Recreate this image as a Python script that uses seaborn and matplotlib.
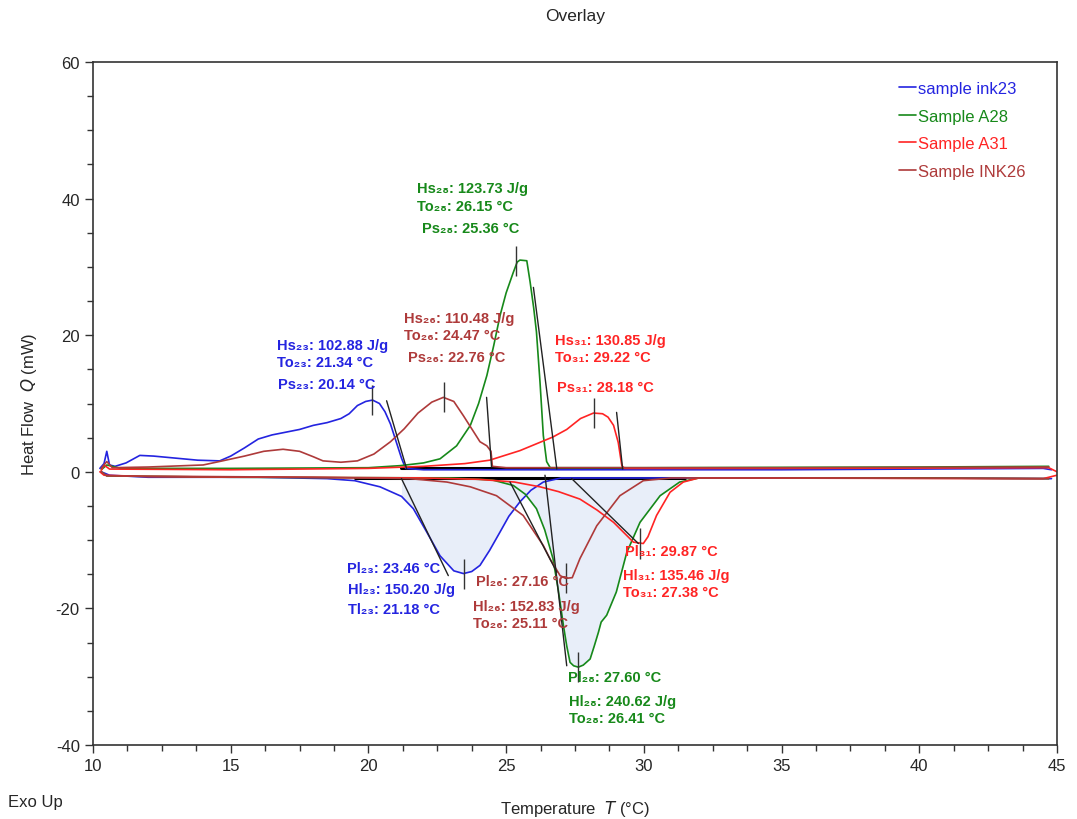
import seaborn as sns
import pandas as pd
import matplotlib.pyplot as plt
from matplotlib.lines import Line2D
from matplotlib.ticker import MultipleLocator

# ---- data read off the overlay (T in degC, Q in mW) ----
# heating traces (upper) and cooling traces (lower), one loop per sample
ink23_up_T = [10.25, 10.4, 10.5, 10.6, 10.8, 11.2, 11.7, 12.2, 13.0, 13.8, 14.6, 15.0, 15.5, 16.0,
              16.5, 17.0, 17.5, 18.0, 18.5, 19.0, 19.3, 19.6, 19.9, 20.15, 20.4, 20.6, 20.8, 21.0,
              21.2, 21.35, 22.0, 25.0, 30.0, 35.0, 40.0, 44.5, 44.8]
ink23_up_Q = [0.5, 1.2, 3.0, 1.0, 0.8, 1.3, 2.4, 2.3, 2.0, 1.7, 1.6, 2.3, 3.5, 4.8,
              5.4, 5.8, 6.2, 6.8, 7.2, 7.8, 8.5, 9.7, 10.3, 10.5, 10.0, 8.8, 7.0, 4.5,
              2.0, 0.5, 0.3, 0.3, 0.3, 0.3, 0.4, 0.5, 0.3]
ink23_dn_T = [44.8, 40.0, 35.0, 30.0, 27.0, 26.35, 25.9, 25.5, 25.1, 24.78, 24.4, 24.05, 23.75,
              23.45, 23.1, 22.6, 22.1, 21.63, 21.2, 20.42, 19.5, 18.5, 16.0, 12.0, 10.6, 10.3]
ink23_dn_Q = [-1.0, -0.9, -0.9, -0.9, -0.9, -1.5, -2.7, -4.4, -6.5, -8.8, -11.5, -13.7, -14.6,
              -14.9, -14.5, -12.3, -8.7, -5.4, -3.6, -2.2, -1.3, -1.0, -0.8, -0.8, -0.5, 0.0]

a28_up_T = [10.3, 10.5, 11.0, 15.0, 20.0, 21.15, 22.0, 22.6, 23.2, 23.7, 24.0, 24.3, 24.55, 24.78,
            25.0, 25.26, 25.4, 25.5, 25.75, 25.87, 26.0, 26.1, 26.23, 26.35, 26.47, 26.6, 30.0,
            40.0, 44.7]
a28_up_Q = [0.3, 1.0, 0.5, 0.5, 0.6, 0.9, 1.3, 1.9, 3.8, 6.8, 10.0, 14.1, 18.5, 22.9,
            26.2, 29.2, 30.7, 31.0, 30.9, 27.8, 24.0, 20.5, 13.1, 5.3, 1.5, 0.6, 0.6,
            0.7, 0.8]
a28_dn_T = [44.7, 40.0, 32.0, 31.3, 30.59, 29.86, 29.38, 29.0, 28.65, 28.45, 28.35, 28.2, 28.05,
            27.8, 27.62, 27.45, 27.32, 27.2, 27.08, 26.9, 26.7, 26.4, 26.1, 25.7, 25.26, 24.5,
            23.0, 15.0, 10.5, 10.3]
a28_dn_Q = [-1.0, -0.9, -0.9, -1.5, -3.5, -7.4, -11.8, -17.6, -21.0, -22.0, -23.5, -25.5, -27.4,
            -28.3, -28.6, -28.4, -27.9, -25.5, -22.5, -17.5, -12.7, -8.5, -5.4, -3.3, -2.0, -1.2,
            -0.9, -0.8, -0.6, 0.0]

a31_up_T = [10.3, 10.4, 10.6, 15.0, 20.0, 22.0, 23.5, 24.4, 25.5, 26.7, 27.2, 27.7, 28.17, 28.5,
            28.7, 28.9, 29.07, 29.2, 29.3, 35.0, 44.7, 45.0]
a31_up_Q = [0.2, 1.0, 0.4, 0.3, 0.5, 0.8, 1.2, 1.7, 3.1, 5.1, 6.2, 7.8, 8.6, 8.5,
            8.0, 6.8, 4.3, 0.9, 0.5, 0.5, 0.6, 0.0]
a31_dn_T = [45.0, 44.5, 32.0, 31.43, 30.95, 30.46, 30.15, 29.98, 29.62, 28.9, 28.3, 27.68, 26.9,
            26.23, 25.3, 24.0, 22.0, 12.0, 10.4, 10.25]
a31_dn_Q = [-0.5, -1.0, -0.9, -1.5, -3.0, -6.4, -9.5, -10.5, -10.3, -7.4, -5.6, -4.0, -2.9,
            -2.2, -1.5, -1.1, -0.9, -0.7, -0.5, 0.0]

ink26_up_T = [10.3, 10.5, 10.7, 12.0, 14.0, 14.7, 15.5, 16.2, 16.9, 17.5, 18.0, 18.35, 19.0, 19.6,
              20.2, 20.8, 21.3, 21.8, 22.3, 22.72, 23.1, 23.45, 23.75, 24.05, 24.3, 24.45, 24.5,
              25.0, 35.0, 44.7]
ink26_up_Q = [0.5, 1.5, 0.6, 0.7, 1.0, 1.6, 2.3, 3.0, 3.3, 3.0, 2.2, 1.6, 1.4, 1.6,
              2.6, 4.4, 6.3, 8.6, 10.2, 10.9, 10.3, 8.2, 6.3, 4.4, 3.8, 3.0, 0.8,
              0.6, 0.6, 0.7]
ink26_dn_T = [44.7, 35.0, 31.0, 29.98, 29.13, 28.29, 27.68, 27.4, 27.16, 26.96, 26.6, 26.35, 25.62,
              24.65, 23.7, 22.85, 21.5, 18.0, 10.5, 10.3]
ink26_dn_Q = [-1.0, -0.9, -0.9, -1.3, -3.5, -7.9, -12.7, -15.5, -15.6, -15.2, -12.8, -10.8, -6.4,
              -3.5, -2.2, -1.5, -1.0, -0.8, -0.6, 0.0]

samples = ["sample ink23", "Sample A28", "Sample A31", "Sample INK26"]
colors = ["#2424e0", "#17891a", "#ff2424", "#ae3a3a"]

# integration baselines and tangent construction lines (x0, y0, x1, y1)
base_up = [(21.2, 0.6, 29.3, 0.6)]
base_dn = [(19.5, -0.9, 31.5, -0.9)]
tangents = [(20.66, 10.4, 21.39, 0.4), (24.29, 10.9, 24.47, 0.7), (25.99, 27.0, 26.84, 0.4),
            (29.01, 8.7, 29.23, 0.4), (21.2, -1.0, 22.9, -15.2), (25.14, -1.5, 26.84, -14.7),
            (26.41, -0.5, 27.2, -28.4), (27.38, -1.0, 29.8, -10.5)]
peak_T = [20.14, 22.76, 25.36, 28.18, 23.46, 27.16, 27.60, 29.87]
peak_Q = [10.5, 10.9, 30.9, 8.6, -14.9, -15.6, -28.6, -10.5]
fill_base = -0.9

# annotation text (colour index, line)
ann_text = [
    (0, "Hs\u2082\u2083: 102.88 J/g"), (0, "To\u2082\u2083: 21.34 °C"), (0, "Ps\u2082\u2083: 20.14 °C"),
    (3, "Hs\u2082\u2086: 110.48 J/g"), (3, "To\u2082\u2086: 24.47 °C"), (3, "Ps\u2082\u2086: 22.76 °C"),
    (2, "Hs\u2083\u2081: 130.85 J/g"), (2, "To\u2083\u2081: 29.22 °C"), (2, "Ps\u2083\u2081: 28.18 °C"),
    (1, "Hs\u2082\u2088: 123.73 J/g"), (1, "To\u2082\u2088: 26.15 °C"), (1, "Ps\u2082\u2088: 25.36 °C"),
    (0, "Pl\u2082\u2083: 23.46 °C"), (0, "Hl\u2082\u2083: 150.20 J/g"), (0, "Tl\u2082\u2083: 21.18 °C"),
    (3, "Pl\u2082\u2086: 27.16 °C"), (3, "Hl\u2082\u2086: 152.83 J/g"), (3, "To\u2082\u2086: 25.11 °C"),
    (2, "Pl\u2083\u2081: 29.87 °C"), (2, "Hl\u2083\u2081: 135.46 J/g"), (2, "To\u2083\u2081: 27.38 °C"),
    (1, "Pl\u2082\u2088: 27.60 °C"), (1, "Hl\u2082\u2088: 240.62 J/g"), (1, "To\u2082\u2088: 26.41 °C"),
]
# pixel positions of each annotation line (left, vertical centre) in the 1077x820 frame
ann_px = [(277, 346), (277, 363), (278, 385),
          (404, 319), (404, 336), (408, 358),
          (555, 341), (555, 358), (557, 388),
          (417, 189), (417, 207), (422, 229),
          (347, 569), (348, 590), (348, 610),
          (476, 582), (473, 607), (473, 624),
          (625, 552), (623, 576), (623, 593),
          (568, 678), (569, 702), (569, 719)]

rows = []
for name, segs in zip(samples, [
        [(ink23_up_T, ink23_up_Q), (ink23_dn_T, ink23_dn_Q)],
        [(a28_up_T, a28_up_Q), (a28_dn_T, a28_dn_Q)],
        [(a31_up_T, a31_up_Q), (a31_dn_T, a31_dn_Q)],
        [(ink26_up_T, ink26_up_Q), (ink26_dn_T, ink26_dn_Q)]]):
    for k, (T, Q) in enumerate(segs):
        for t, q in zip(T, Q):
            rows.append({"T": t, "Q": q, "sample": name, "seg": f"{name}-{k}"})
df = pd.DataFrame(rows)

sns.set_style("white")
plt.rcParams['font.family'] = ['Liberation Sans', 'DejaVu Sans']
plt.rcParams['axes.unicode_minus'] = False

fig = plt.figure(figsize=(10.77, 8.2), dpi=100)
ax = fig.add_axes([93/1077, 74/820, 964/1077, 683/820])

# shaded enthalpy areas under the cooling peaks
fill_col = "#e8eef9"
ax.fill_between(ink23_dn_T, ink23_dn_Q, fill_base,
                where=[21.0 <= t <= 26.6 for t in ink23_dn_T], color=fill_col, lw=0, zorder=0)
ax.fill_between(a28_dn_T, a28_dn_Q, fill_base,
                where=[25.0 <= t <= 31.4 for t in a28_dn_T], color=fill_col, lw=0, zorder=0)

for x0, y0, x1, y1 in base_up + base_dn:
    ax.plot([x0, x1], [y0, y1], color="black", lw=2.2, zorder=1)

sns.lineplot(data=df, x="T", y="Q", hue="sample", units="seg", estimator=None, sort=False,
             palette=dict(zip(samples, colors)), lw=1.2, legend=False, ax=ax, zorder=2)

for x0, y0, x1, y1 in tangents:
    ax.plot([x0, x1], [y0, y1], color="#222222", lw=1.0, zorder=3)
ax.vlines(peak_T, [q - 2.2 for q in peak_Q], [q + 2.2 for q in peak_Q],
          color="#333333", lw=1.0, zorder=3)

for (ci, s), (px, py) in zip(ann_text, ann_px):
    ax.text((px - 93) / 27.543 + 10, (473 - py) / 6.83, s, color=colors[ci],
            fontsize=10.5, fontweight="bold", va="center", ha="left", zorder=4)

ax.set_xlim(10, 45)
ax.set_ylim(-40, 60)
ax.xaxis.set_major_locator(MultipleLocator(5))
ax.xaxis.set_minor_locator(MultipleLocator(1.25))
ax.yaxis.set_major_locator(MultipleLocator(20))
ax.yaxis.set_minor_locator(MultipleLocator(5))
ax.tick_params(which="major", direction="out", length=6, width=1, labelsize=12,
               color="#333333", bottom=True, left=True)
ax.tick_params(which="minor", direction="out", length=4, width=1, color="#333333",
               bottom=True, left=True)
for sp in ax.spines.values():
    sp.set_color("#333333")
    sp.set_linewidth(1.2)

ax.set_xlabel("Temperature  $\\it{T}$ (°C)", fontsize=12, labelpad=18)
ax.set_ylabel("Heat Flow  $\\it{Q}$ (mW)", fontsize=12, labelpad=12)
ax.set_title("Overlay", fontsize=12.5, pad=30)
fig.text(8 / 1077, 1 - 803 / 820, "Exo Up", fontsize=12, va="center", ha="left")

handles = [Line2D([], [], color=c, lw=1.2) for c in colors]
ax.legend(handles, samples, loc="upper left", bbox_to_anchor=(0.821, 0.994), frameon=False,
          fontsize=12, handlelength=1.0, handletextpad=0.1, labelspacing=0.75,
          labelcolor=colors)

fig.savefig("out.png", dpi=100)
